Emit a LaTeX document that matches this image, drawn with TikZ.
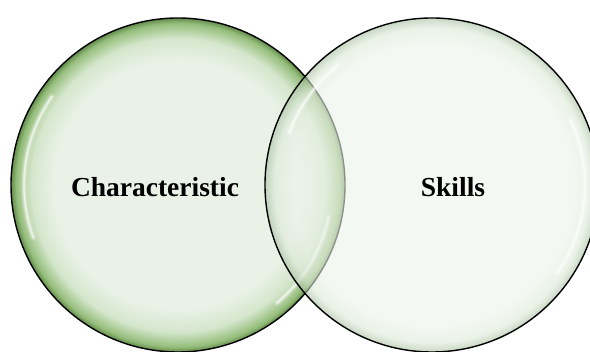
\documentclass[tikz,border=0pt]{standalone}
\usepackage{fontspec}
\setmainfont{Liberation Serif}
\definecolor{lin}{RGB}{234,242,232}
\definecolor{lmid}{RGB}{212,230,204}
\definecolor{lrim}{RGB}{150,190,124}
\definecolor{ledge}{RGB}{98,140,76}
\definecolor{rin}{RGB}{236,243,234}
\definecolor{rmid}{RGB}{220,233,216}
\definecolor{rrim}{RGB}{165,190,158}
\pgfdeclareradialshading{leftglass}{\pgfpoint{0bp}{0bp}}{color(0bp)=(lin); color(18.5bp)=(lin); color(22bp)=(lmid); color(24.2bp)=(lrim); color(25bp)=(ledge); color(50bp)=(ledge)}
\pgfdeclareradialshading{rightglass}{\pgfpoint{0bp}{0bp}}{color(0bp)=(rin); color(21bp)=(rin); color(23.6bp)=(rmid); color(25bp)=(rrim); color(50bp)=(rrim)}
\tikzset{
  glassL/.style={circle, minimum size=334pt, inner sep=0pt, draw=black, line width=1.4pt, shading=leftglass, shade},
  glassR/.style={circle, minimum size=334pt, inner sep=0pt, draw=black, line width=1.4pt, shading=rightglass, shade, fill opacity=0.6, draw opacity=1},
  lbl/.style={anchor=base, inner sep=0pt, font=\fontsize{27.5}{30}\selectfont\bfseries, text=black},
}
\newcommand{\gloss}[4]{%
  \foreach \w/\o in {7/0.12,4.5/0.2,2.6/0.32,1.2/0.5}
    \draw[white, line width=\w pt, opacity=\o, line cap=round] ([shift={(#2:#4)}]#1.center) arc[start angle=#2, end angle=#3, radius=#4];
}
\begin{document}
\begin{tikzpicture}[x=1pt,y=-1pt]
\useasboundingbox (0,0) rectangle (590,352);
\node[glassL] (L) at (178,185) {};
\gloss{L}{145}{200}{154pt}
\gloss{L}{-12}{-50}{154pt}
\node[glassR] (R) at (432,185) {};
\gloss{R}{128}{160}{152pt}
\gloss{R}{25}{-35}{153pt}
\node[lbl] (tc) at (155,197) {Characteristic};
\node[lbl] (ts) at (453,197) {Skills};
\end{tikzpicture}
\end{document}
